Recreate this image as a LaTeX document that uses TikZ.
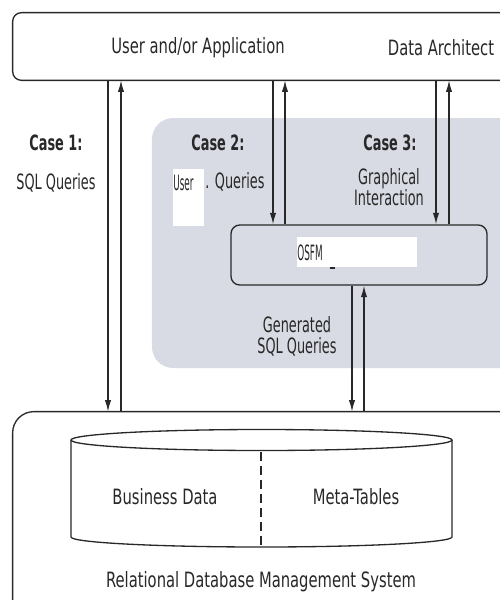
\documentclass[tikz,border=0pt]{standalone}
\usepackage{fontspec}
\setmainfont{DejaVu Sans}[FakeStretch=0.70]
\newfontfamily\slim{DejaVu Sans}[FakeStretch=0.61]
\newfontfamily\squeezed{DejaVu Sans}[FakeStretch=0.42]
\usetikzlibrary{arrows.meta,fit}
\definecolor{zone}{RGB}{216,219,227}
\definecolor{ink}{RGB}{40,40,40}
\begin{document}
\begin{tikzpicture}[x=0.02cm,y=-0.02cm,
  font=\fontsize{12}{13.5}\selectfont,
  line/.style={draw=ink,line width=0.75pt},
  region/.style={inner sep=0pt},
  arr/.style={line,-{Latex[length=6.5pt,width=3.6pt]}},
  lbl/.style={inner sep=0pt,text=ink,align=center},
  slimlbl/.style={lbl,font=\fontsize{12}{13.5}\slim},
  head/.style={lbl,font=\fontsize{12}{13.5}\slim\bfseries},
  patch/.style={fill=white,inner sep=0pt}]
\useasboundingbox (0,0) rectangle (500,600);
\clip (0,0) rectangle (500,600);

% shaded area holding the mapping tool (runs off the right edge)
\fill[zone,rounded corners=12pt] (560,118) -- (152,118) -- (152,368) -- (560,368);

% outer boxes, both open to the right
\node[region,fit={(13,13) (560,80)}] (top) {};
\draw[line,rounded corners=5pt] (top.north east) -- (top.north west) -- (top.south west) -- (top.south east);
\node[region,fit={(13,412) (560,640)}] (rdb) {};
\draw[line,rounded corners=12pt] (rdb.north east) -- (rdb.north west) -- (rdb.south west);

% mapping tool box
\node[line,region,rounded corners=5pt,fit={(231,225) (487,285)}] (osfm) {};

% arrow columns
\coordinate (c1a) at (108,0);
\coordinate (c1b) at (121,0);
\coordinate (c2a) at (273,0);
\coordinate (c2b) at (285,0);
\coordinate (c3a) at (436,0);
\coordinate (c3b) at (449,0);
\coordinate (c4a) at (352,0);
\coordinate (c4b) at (364,0);

\draw[arr] (top.south -| c1a) -- (rdb.north -| c1a);
\draw[arr] (rdb.north -| c1b) -- (top.south -| c1b);
\draw[arr] (top.south -| c2a) -- (osfm.north -| c2a);
\draw[arr] (osfm.north -| c2b) -- (top.south -| c2b);
\draw[arr] (top.south -| c3a) -- (osfm.north -| c3a);
\draw[arr] (osfm.north -| c3b) -- (top.south -| c3b);
\draw[arr] (osfm.south -| c4a) -- (rdb.north -| c4a);
\draw[arr] (rdb.north -| c4b) -- (osfm.south -| c4b);

% database cylinder
\draw[line,fill=white] (71,440) -- (71,537)
  arc[start angle=180,end angle=0,x radius=190.5,y radius=10] -- (452,440);
\draw[line] (261.5,440) ellipse[x radius=190.5,y radius=10.5];
\coordinate (split) at (261,452);
\draw[line,dashed,dash pattern=on 5pt off 3pt] (split) -- (261,547);

% labels
\node[lbl] (ua) at (198,48) {User and/or Application};
\node[lbl] (da) at (441,48) {Data Architect};
\node[head] (k1) at (56,143) {Case 1:};
\node[slimlbl] (q1) at (56,183) {SQL Queries};
\node[head] (k2) at (218,143) {Case 2:};
\node[head] (k3) at (390,143) {Case 3:};
\node[slimlbl] (gi) at (389,187) {Graphical\\[-1.5pt]Interaction};
\node[slimlbl] (gq) at (297,336) {Generated\\[-1.5pt]SQL Queries};

\node[patch,fit={(173,169) (204,226)}] (userpatch) {};
\node[lbl,anchor=north west,font=\fontsize{12}{13.5}\squeezed] (uw) at (173,175) {User};
\node[slimlbl,anchor=west] (uq) at (205,182) {. Queries};

\node[patch,fit={(297,237) (417,267)}] (osfmpatch) {};
\node[lbl,anchor=west,font=\fontsize{12}{13.5}\squeezed] (ow) at (297,253) {OSFM};
\draw[line,line width=1pt] (330,268) -- (335,268);

\node[lbl] (bd) at (165,497) {Business Data};
\node[lbl] (mt) at (356,497) {Meta-Tables};
\node[lbl] (rd) at (261,582) {Relational Database Management System};
\end{tikzpicture}
\end{document}
